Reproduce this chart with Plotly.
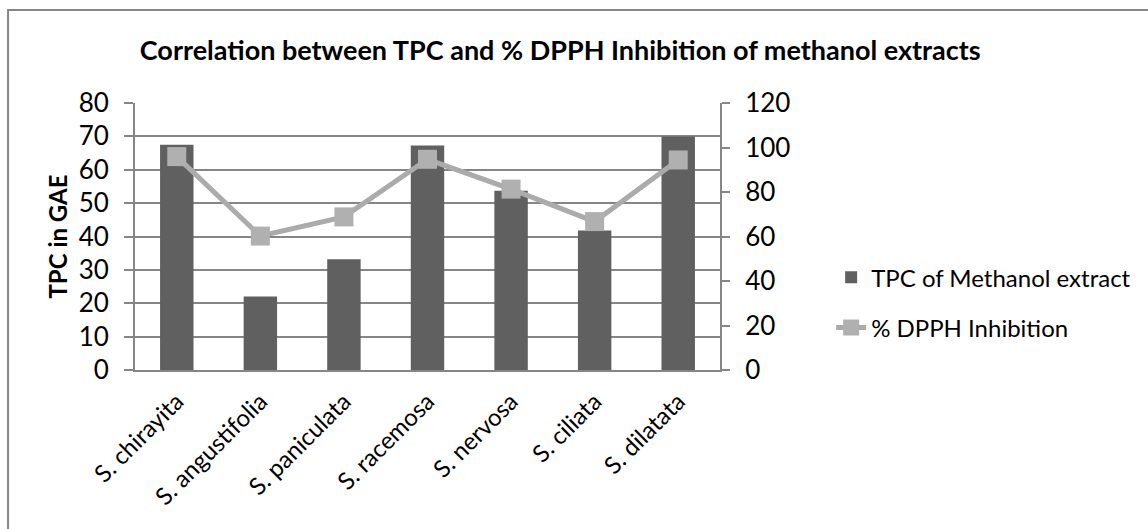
import plotly.graph_objects as go

# Species and measurements
species = ["S. chirayita", "S. angustifolia", "S. paniculata", "S. racemosa",
           "S. nervosa", "S. ciliata", "S. dilatata"]
tpc_methanol = [67.5, 22.0, 33.2, 67.3, 53.7, 41.8, 70.0]
dpph_inhibition = [95.9, 60.2, 68.8, 94.7, 81.3, 66.7, 94.4]

FONT = "Lato"
GRID = "#868686"

fig = go.Figure()

fig.add_trace(go.Bar(
    x=species, y=tpc_methanol, name="TPC of Methanol extract",
    marker=dict(color="#606060", line=dict(width=0)),
    legendgroup="a", yaxis="y",
))

fig.add_trace(go.Scatter(
    x=species, y=dpph_inhibition, name="% DPPH Inhibition",
    mode="lines+markers",
    line=dict(color="#ABABAB", width=5),
    marker=dict(symbol="square", size=19, color="#B0B0B0"),
    legendgroup="b", yaxis="y2",
))

fig.update_layout(
    width=1148, height=529,
    margin=dict(l=135, r=428, t=103, b=159, autoexpand=False),
    paper_bgcolor="white", plot_bgcolor="white",
    font=dict(family=FONT, size=26, color="black"),
    bargap=0.6,
    title=dict(
        text="<b>Correlation between TPC and % DPPH Inhibition of methanol extracts</b>",
        x=0.488, xref="container", xanchor="center",
        y=0.905, yref="container", yanchor="middle",
        font=dict(family=FONT, size=27, color="black"),
    ),
    xaxis=dict(
        showgrid=False, showline=True, linecolor=GRID, linewidth=2,
        ticks="", tickangle=-45, tickfont=dict(size=24),
        ticklabelstandoff=6, automargin=False,
    ),
    yaxis=dict(
        range=[0, 80], dtick=10, showgrid=True, gridcolor=GRID, gridwidth=1.5,
        showline=True, linecolor=GRID, linewidth=2,
        ticks="outside", ticklen=9, tickcolor=GRID, tickwidth=1.5,
        ticklabelstandoff=10, zeroline=False, automargin=False,
        title=dict(text="<b>TPC in GAE</b>", standoff=4, font=dict(size=24)),
    ),
    yaxis2=dict(
        range=[0, 120], dtick=20, overlaying="y", side="right",
        showgrid=False, showline=True, linecolor=GRID, linewidth=2,
        ticks="outside", ticklen=8, tickcolor=GRID, tickwidth=1.5,
        ticklabelstandoff=10, zeroline=False, automargin=False,
    ),
    legend=dict(
        x=1.19, xanchor="left", y=0.43, yanchor="top",
        traceorder="grouped", tracegroupgap=16,
        font=dict(family=FONT, size=24, color="black"),
        bgcolor="rgba(0,0,0,0)",
    ),
    shapes=[dict(
        type="rect", xref="paper", yref="paper",
        x0=-0.217, x1=2.5, y0=-1.0, y1=1.348,
        line=dict(color=GRID, width=2), fillcolor="rgba(0,0,0,0)", layer="below",
    )],
)

fig.write_html("out.html")
